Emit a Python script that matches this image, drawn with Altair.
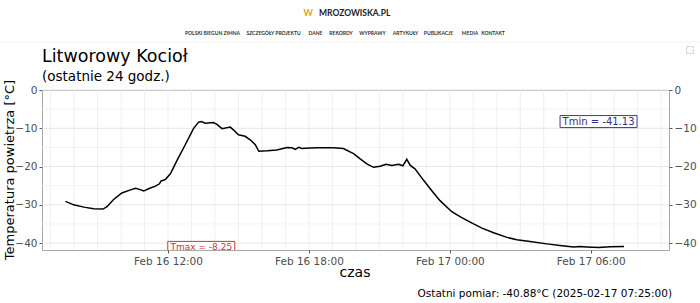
import altair as alt
import pandas as pd

# ---- data ----
times = [
    "2025-02-16 07:38", "2025-02-16 07:59", "2025-02-16 08:25", "2025-02-16 08:50", "2025-02-16 09:14",
    "2025-02-16 09:24", "2025-02-16 09:41", "2025-02-16 10:02", "2025-02-16 10:24", "2025-02-16 10:37",
    "2025-02-16 10:45", "2025-02-16 10:58", "2025-02-16 11:10", "2025-02-16 11:28", "2025-02-16 11:38",
    "2025-02-16 11:42", "2025-02-16 11:53", "2025-02-16 12:06", "2025-02-16 12:23", "2025-02-16 12:44",
    "2025-02-16 13:05", "2025-02-16 13:18", "2025-02-16 13:25", "2025-02-16 13:35", "2025-02-16 13:56",
    "2025-02-16 14:05", "2025-02-16 14:18", "2025-02-16 14:39", "2025-02-16 14:47", "2025-02-16 15:00",
    "2025-02-16 15:17", "2025-02-16 15:30", "2025-02-16 15:43", "2025-02-16 15:52", "2025-02-16 16:13",
    "2025-02-16 16:38", "2025-02-16 17:04", "2025-02-16 17:17", "2025-02-16 17:25", "2025-02-16 17:34",
    "2025-02-16 17:42", "2025-02-16 17:50", "2025-02-16 18:20", "2025-02-16 19:03", "2025-02-16 19:28",
    "2025-02-16 19:54", "2025-02-16 20:11", "2025-02-16 20:28", "2025-02-16 20:45", "2025-02-16 21:02",
    "2025-02-16 21:17", "2025-02-16 21:32", "2025-02-16 21:49", "2025-02-16 22:00", "2025-02-16 22:10",
    "2025-02-16 22:19", "2025-02-16 22:31", "2025-02-16 22:53", "2025-02-16 23:14", "2025-02-16 23:35",
    "2025-02-17 00:05", "2025-02-17 00:26", "2025-02-17 00:52", "2025-02-17 01:22", "2025-02-17 01:52",
    "2025-02-17 02:26", "2025-02-17 02:51", "2025-02-17 03:25", "2025-02-17 04:08", "2025-02-17 04:41",
    "2025-02-17 05:16", "2025-02-17 05:32", "2025-02-17 05:50", "2025-02-17 06:20", "2025-02-17 06:50",
    "2025-02-17 07:25",
]
temps = [
    -29.1, -30.0, -30.6, -31.0, -31.1,
    -30.5, -28.6, -26.9, -26.1, -25.7,
    -25.9, -26.4, -25.8, -25.1, -24.5,
    -23.8, -23.4, -21.9, -18.4, -14.3,
    -10.1, -8.4, -8.25, -8.7, -8.5,
    -9.0, -10.1, -9.7, -10.4, -11.7,
    -12.1, -13.0, -14.3, -16.0, -15.9,
    -15.7, -15.0, -15.1, -15.5, -15.0,
    -15.3, -15.2, -15.1, -15.1, -15.3,
    -16.6, -18.0, -19.3, -20.2, -19.9,
    -19.4, -19.7, -19.4, -19.8, -18.1,
    -19.7, -20.6, -23.6, -26.3, -28.9,
    -31.8, -33.1, -34.5, -36.1, -37.3,
    -38.5, -39.1, -39.6, -40.2, -40.6,
    -41.0, -40.9, -41.0, -41.13, -40.95,
    -40.88,
]
x_tick_times = ["2025-02-16 12:00", "2025-02-16 18:00", "2025-02-17 00:00", "2025-02-17 06:00"]
y_major = [0, -10, -20, -30, -40]
y_minor = [-5, -15, -25, -35]
x_domain = ["2025-02-16 06:38", "2025-02-17 09:20"]
y_domain = [-41.8, 0]

tmax_value, tmax_time = -8.25, "2025-02-16 13:25"
tmin_value, tmin_time = -41.13, "2025-02-17 06:20"

title_text = "Litworowy Kocioł"
subtitle_text = "(ostatnie 24 godz.)"
y_title = "Temperatura powietrza [°C]"
x_title = "czas"
caption = "Ostatni pomiar: -40.88°C (2025-02-17 07:25:00)"
nav_items = ["POLSKI BIEGUN ZIMNA", "SZCZEGÓŁY PROJEKTU", "DANE", "REKORDY", "WYPRAWY",
             "ARTYKUŁY", "PUBLIKACJE", "MEDIA", "KONTAKT"]
nav_x = [170.5, 231.5, 273.5, 299, 330.5, 363.5, 396.5, 428, 451]  # layout (pixel) positions

FONT = "DejaVu Sans"


def iso(s):
    return pd.Timestamp(s).strftime("%Y-%m-%dT%H:%M:%SZ")


def dt(s):
    t = pd.Timestamp(s)
    return alt.DateTime(year=t.year, month=t.month, date=t.day, hours=t.hour, minutes=t.minute, utc=True)


xscale = alt.Scale(type="utc", domain=[dt(s) for s in x_domain])
yscale = alt.Scale(domain=y_domain, nice=False, zero=False)
xaxis = alt.Axis(values=[dt(s) for s in x_tick_times], format="%b %d %H:%M", title=None,
                 grid=False, domain=False, tickSize=3, tickColor="#555555",
                 labelColor="#4d4d4d", labelFontSize=10.5, labelPadding=3, labelFont=FONT)

df = pd.DataFrame({"t": [iso(s) for s in times], "v": temps})

hours = pd.date_range("2025-02-16 07:00", "2025-02-17 09:00", freq="h")
vminor = pd.DataFrame({"t": [h.strftime("%Y-%m-%dT%H:%M:%SZ") for h in hours]})
hminor = pd.DataFrame({"v": y_minor})
hmajor = pd.DataFrame({"v": y_major})

vminor_rules = alt.Chart(vminor).mark_rule(color="#ebebeb", strokeWidth=0.8).encode(
    x=alt.X("t:T", scale=xscale, axis=xaxis))
hminor_rules = alt.Chart(hminor).mark_rule(color="#efefef", strokeWidth=0.8).encode(
    y=alt.Y("v:Q", scale=yscale, axis=None))
hmajor_rules = alt.Chart(hmajor).mark_rule(color="#e6e6e6", strokeWidth=1).encode(
    y=alt.Y("v:Q", scale=yscale, axis=None))

axis_common = dict(values=y_major, title=None, grid=False, domain=False, tickSize=3,
                   tickColor="#555555", labelColor="#4d4d4d", labelFontSize=10.5,
                   labelPadding=2, labelFont=FONT)

line = alt.Chart(df).mark_line(color="black", strokeWidth=1.5).encode(
    x=alt.X("t:T", scale=xscale, axis=xaxis),
    y=alt.Y("v:Q", scale=yscale, axis=alt.Axis(orient="left", **axis_common)),
)
right_axis = alt.Chart(hmajor).mark_rule(opacity=0).encode(
    y=alt.Y("v:Q", scale=yscale, axis=alt.Axis(orient="right", **axis_common)),
)

# Tmax / Tmin labels (placed as in the reference: Tmax label at min level, Tmin label at max level)
lab_max = pd.DataFrame({"t": [iso(tmax_time)], "v": [tmin_value], "txt": [f"Tmax = {tmax_value}"]})
lab_min = pd.DataFrame({"t": [iso(tmin_time)], "v": [tmax_value], "txt": [f"Tmin = {tmin_value}"]})

box_max = alt.Chart(lab_max).mark_point(
    shape="M-1,-0.18H1V0.18H-1Z", size=67 * 67, filled=True, fill="white",
    stroke="#cc3333", strokeWidth=1, opacity=1, clip=True).encode(
    x=alt.X("t:T", scale=xscale, axis=xaxis), y=alt.Y("v:Q", scale=yscale, axis=None))
txt_max = alt.Chart(lab_max).mark_text(font=FONT, fontSize=9, color="#cc3333", clip=True).encode(
    x=alt.X("t:T", scale=xscale, axis=xaxis), y=alt.Y("v:Q", scale=yscale, axis=None), text="txt:N")
box_min = alt.Chart(lab_min).mark_point(
    shape="M-1,-0.156H1V0.156H-1Z", size=77 * 77, filled=True, fill="white",
    stroke="#3a3a9a", strokeWidth=1, opacity=1).encode(
    x=alt.X("t:T", scale=xscale, axis=xaxis), y=alt.Y("v:Q", scale=yscale, axis=None))
txt_min = alt.Chart(lab_min).mark_text(font=FONT, fontSize=10, color="#2e2e8c").encode(
    x=alt.X("t:T", scale=xscale, axis=xaxis), y=alt.Y("v:Q", scale=yscale, axis=None), text="txt:N")


def label(text, x, y, size, color="black", align="left", weight="normal", angle=0, font=FONT,
          baseline="alphabetic"):
    props = dict(align=align, baseline=baseline, fontSize=size, color=color, font=font, fontWeight=weight)
    if angle:
        props["angle"] = angle
    return alt.Chart(pd.DataFrame({"s": [text]})).mark_text(**props).encode(
        x=alt.value(x), y=alt.value(y), text="s:N")


# page header
logo_w = label("W", 261.5, -74.5, 9, color="#e0a020", align="left", weight="bold", font="Lato")
logo = label("MROZOWISKA.PL", 277, -74.5, 8.5, color="#222222", align="left", weight="bold", font="Lato")
nav_layers = [label(item, x, -54.8, 5.0, color="#333333", align="center", weight="bold", font="Lato")
              for item, x in zip(nav_items, nav_x)]
header_line = alt.Chart(pd.DataFrame({"a": [0]})).mark_rule(color="#f2f2f2", strokeWidth=1).encode(
    x=alt.value(-42), x2=alt.value(658), y=alt.value(-48))
icon = alt.Chart(pd.DataFrame({"a": [0]})).mark_point(
    shape="square", size=45, filled=False, stroke="#9aa6b0", strokeWidth=1, strokeDash=[2, 1]).encode(
    x=alt.value(648), y=alt.value(-40))

title = label(title_text, 0, -28, 17.5)
subtitle = label(subtitle_text, 0, -9, 13.5)
ytitle = label(y_title, -32, 80, 13, align="center", angle=270, baseline="middle")
xtitle = label(x_title, 313, 183, 14, align="center", baseline="middle")
cap = label(caption, 630, 204, 10.5, align="right", baseline="middle")

chart = alt.layer(
    vminor_rules, hminor_rules, hmajor_rules,
    line, right_axis,
    box_max, txt_max, box_min, txt_min,
    header_line, logo_w, logo, *nav_layers, icon,
    title, subtitle, ytitle, xtitle, cap,
).resolve_axis(y="independent").properties(
    width=627, height=160,
    autosize=alt.AutoSizeParams(type="none"),
    padding={"left": 42, "top": 90, "right": 31, "bottom": 53},
    background="white",
).configure_view(stroke="#a8a8a8", strokeWidth=1)

chart.save("out.html", embed_options={"renderer": "svg", "actions": False})
